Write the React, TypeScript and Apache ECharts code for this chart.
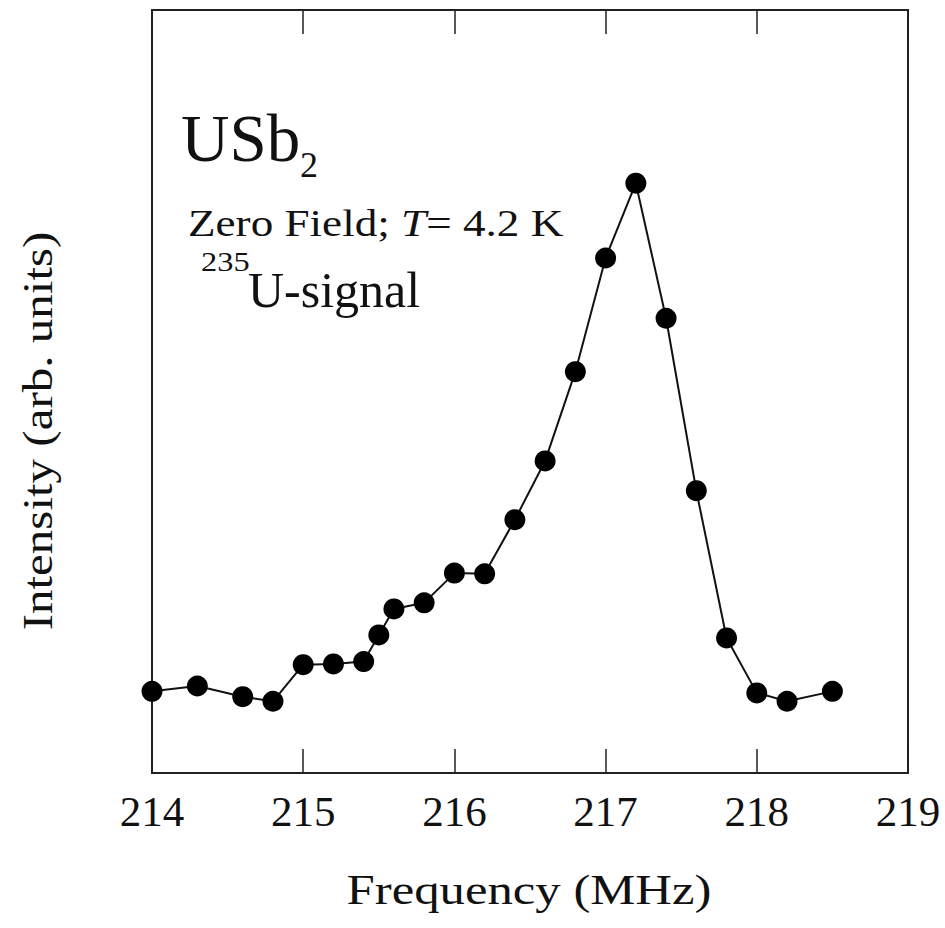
import React, { useEffect, useRef } from "react";
import * as echarts from "echarts";

// Data (USb2, 235U zero-field NMR signal)
const frequencyMHz = [
  214.0, 214.3, 214.6, 214.8, 215.0, 215.2, 215.4, 215.5, 215.6, 215.8, 216.0,
  216.2, 216.4, 216.6, 216.8, 217.0, 217.2, 217.4, 217.6, 217.8, 218.0, 218.2, 218.5,
];
const intensity = [
  10.7, 11.4, 10.0, 9.4, 14.2, 14.3, 14.6, 18.1, 21.5, 22.3, 26.2,
  26.1, 33.2, 40.9, 52.6, 67.5, 77.3, 59.6, 37.0, 17.7, 10.5, 9.4, 10.7,
];
const xMin = 214;
const xMax = 219;
const xInterval = 1;
const yMin = 0;
const yMax = 100;

const FONT = "Liberation Serif";

export default function App() {
  const ref = useRef<HTMLDivElement>(null);

  useEffect(() => {
    if (!ref.current) return;
    const chart = echarts.init(ref.current, null, { renderer: "svg" });
    const points = frequencyMHz.map((f, i) => [f, intensity[i]]);

    const axisCommon = {
      type: "value",
      min: xMin,
      max: xMax,
      interval: xInterval,
      splitLine: { show: false },
      axisLine: { show: true, lineStyle: { color: "#222", width: 2 } },
      axisTick: { show: true, inside: true, length: 24, lineStyle: { color: "#222", width: 1.5 } },
    };

    chart.setOption({
      animation: false,
      backgroundColor: "#fff",
      textStyle: { fontFamily: FONT },
      grid: {
        left: 152,
        right: 37,
        top: 10,
        bottom: 155,
        show: true,
        borderColor: "#222",
        borderWidth: 2,
        backgroundColor: "transparent",
      },
      xAxis: [
        {
          ...axisCommon,
          position: "bottom",
          axisLabel: {
            show: true,
            color: "#111",
            fontFamily: FONT,
            fontSize: 43,
            lineHeight: 43,
            margin: 17,
          },
        },
        {
          ...axisCommon,
          position: "top",
          axisLabel: { show: false },
        },
      ],
      yAxis: [
        {
          type: "value",
          min: yMin,
          max: yMax,
          axisLine: { show: false },
          axisTick: { show: false },
          axisLabel: { show: false },
          splitLine: { show: false },
        },
      ],
      series: [
        {
          type: "line",
          data: points,
          clip: false,
          symbol: "circle",
          symbolSize: 21,
          itemStyle: { color: "#000" },
          lineStyle: { color: "#111", width: 2 },
          z: 5,
        },
      ],
      graphic: [
        {
          type: "text",
          x: 181,
          y: 138,
          style: { text: "USb", fontFamily: FONT, fontSize: 67, fill: "#111", align: "left", verticalAlign: "middle" },
        },
        {
          type: "text",
          x: 300,
          y: 165,
          style: { text: "2", fontFamily: FONT, fontSize: 36, fill: "#111", align: "left", verticalAlign: "middle" },
        },
        {
          type: "text",
          x: 188,
          y: 223,
          scaleX: 1.22,
          style: {
            text: "Zero Field; {i|T}= 4.2 K",
            fontFamily: FONT,
            fontSize: 37,
            fill: "#111",
            align: "left",
            verticalAlign: "middle",
            rich: { i: { fontStyle: "italic", fontFamily: FONT, fontSize: 37, fill: "#111" } },
          },
        },
        {
          type: "text",
          x: 201,
          y: 261.5,
          scaleX: 1.2,
          style: { text: "235", fontFamily: FONT, fontSize: 27, fill: "#111", align: "left", verticalAlign: "middle" },
        },
        {
          type: "text",
          x: 248,
          y: 289.5,
          style: { text: "U-signal", fontFamily: FONT, fontSize: 50, fill: "#111", align: "left", verticalAlign: "middle" },
        },
        {
          type: "text",
          x: 529,
          y: 889,
          scaleX: 1.18,
          style: { text: "Frequency (MHz)", fontFamily: FONT, fontSize: 43, fill: "#111", align: "center", verticalAlign: "middle" },
        },
        {
          type: "text",
          x: 37.5,
          y: 431,
          rotation: Math.PI / 2,
          scaleX: 1.14,
          style: { text: "Intensity (arb. units)", fontFamily: FONT, fontSize: 43, fill: "#111", align: "center", verticalAlign: "middle" },
        },
      ],
    });

    return () => chart.dispose();
  }, []);

  return (
    <div
      ref={ref}
      style={{ position: "fixed", left: 0, top: 0, width: 945, height: 928, background: "#fff" }}
    />
  );
}
